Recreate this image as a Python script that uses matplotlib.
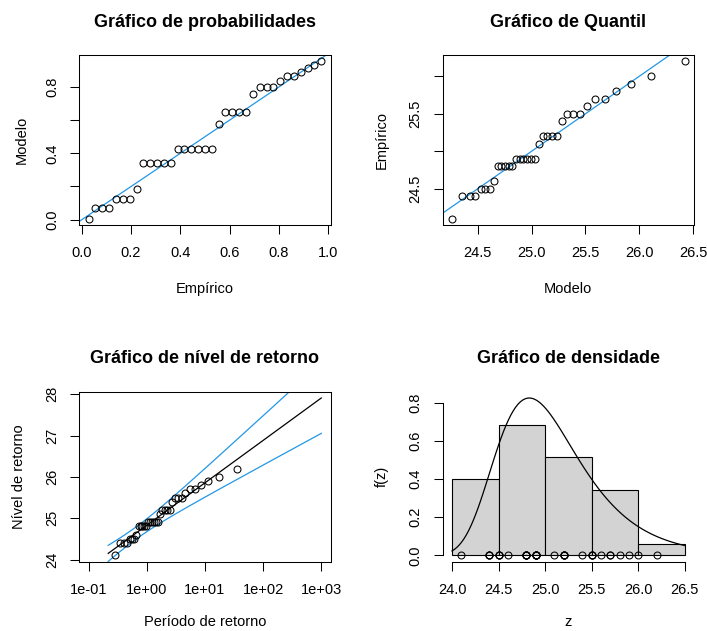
import numpy as np
import matplotlib.pyplot as plt
from matplotlib.ticker import FixedLocator, NullLocator

plt.rcParams["font.family"] = ["Liberation Sans", "DejaVu Sans"]

# ---------------------- Data ----------------------
# observed values (sorted), 35 observations
obs_values = [24.1,
              24.4, 24.4, 24.4,
              24.5, 24.5, 24.5,
              24.6,
              24.8, 24.8, 24.8, 24.8, 24.8,
              24.9, 24.9, 24.9, 24.9, 24.9, 24.9,
              25.1,
              25.2, 25.2, 25.2, 25.2,
              25.4,
              25.5, 25.5, 25.5,
              25.6,
              25.7, 25.7,
              25.8, 25.9, 26.0, 26.2]

# fitted (Gumbel-type) model parameters
loc = 24.83
scale = 0.446
# covariance of (loc, scale) estimates
var_loc = 0.0063
var_scale = 0.00345
cov_loc_scale = 0.00146

# probabilities used for the return level curve
rl_probs = [0.01, 0.02, 0.03, 0.04, 0.05, 0.06, 0.07, 0.08, 0.09,
            0.1, 0.2, 0.3, 0.4, 0.5, 0.6, 0.7, 0.8, 0.9,
            0.95, 0.99, 0.995, 0.999]

hist_breaks = [24.0, 24.5, 25.0, 25.5, 26.0, 26.5]

BLUE = "#2297E6"

dat = np.array(obs_values)
n = len(dat)
plotpos = np.arange(1, n + 1) / (n + 1)


def model_cdf(z):
    return np.exp(-np.exp(-(np.asarray(z) - loc) / scale))


def model_quantile(p):
    return loc - scale * np.log(-np.log(np.asarray(p)))


def model_density(z):
    t = (np.asarray(z) - loc) / scale
    return np.exp(-t) * np.exp(-np.exp(-t)) / scale


def r_limits(lo, hi):
    pad = (hi - lo) * 0.04
    return lo - pad, hi + pad


# ---------------------- Figure layout ----------------------
fig = plt.figure(figsize=(7.07, 6.31), dpi=100)
W, H = 707, 631
PW, PH = 251.3, 170.0


def make_ax(left, top):
    return fig.add_axes([left / W, 1 - (top + PH) / H, PW / W, PH / H])


ax1 = make_ax(79.3, 55)
ax2 = make_ax(442.7, 55)
ax3 = make_ax(79.3, 391.7)
ax4 = make_ax(442.7, 391.7)

TICK_FS = 10.5
TITLE_FS = 13
PX = 72 / 100  # points per pixel
mk = dict(marker="o", linestyle="none", markerfacecolor="none",
          markeredgecolor="black", markersize=5.0, markeredgewidth=0.75)


def style(ax, title, xlab, ylab, xlab_px, ylab_px):
    for sp in ax.spines.values():
        sp.set_linewidth(0.75)
    ax.tick_params(direction="out", length=9 * PX, width=0.75, labelsize=TICK_FS)
    ax.tick_params(axis="x", pad=19 * PX)
    ax.tick_params(axis="y", pad=18 * PX)
    for lab in ax.get_xticklabels():
        lab.set_va("center")
    for lab in ax.get_yticklabels():
        lab.set_rotation(90)
        lab.set_va("center")
        lab.set_ha("center")
    ax.text(0.5, 1 + 28.3 / PH, title, transform=ax.transAxes, ha="center",
            va="baseline", fontsize=TITLE_FS, fontweight="bold")
    ax.text(0.5, -xlab_px / PH, xlab, transform=ax.transAxes, ha="center",
            va="baseline", fontsize=TICK_FS)
    ax.text(-ylab_px / PW, 0.5, ylab, transform=ax.transAxes, ha="center",
            va="baseline", rotation=90, rotation_mode="anchor", fontsize=TICK_FS)


# ---------------------- 1. Probability plot ----------------------
ax1.plot([-1, 2], [-1, 2], color=BLUE, lw=0.9)
ax1.plot(plotpos, model_cdf(dat), **mk)
ax1.set_xlim(*r_limits(plotpos.min(), plotpos.max()))
ax1.set_ylim(*r_limits(model_cdf(dat).min(), model_cdf(dat).max()))
ax1.xaxis.set_major_locator(FixedLocator([0, 0.2, 0.4, 0.6, 0.8, 1.0]))
ax1.set_xticklabels(["0.0", "0.2", "0.4", "0.6", "0.8", "1.0"])
ax1.yaxis.set_major_locator(FixedLocator([0, 0.2, 0.4, 0.6, 0.8]))
ax1.set_yticklabels(["0.0", "", "0.4", "", "0.8"])
style(ax1, "Gráfico de probabilidades", "Empírico", "Modelo", 68.3, 54)

# ---------------------- 2. Quantile plot ----------------------
mq = model_quantile(plotpos)
ax2.plot([20, 30], [20, 30], color=BLUE, lw=0.9)
ax2.plot(mq, dat, **mk)
ax2.set_xlim(*r_limits(mq.min(), mq.max()))
ax2.set_ylim(*r_limits(dat.min(), dat.max()))
ax2.xaxis.set_major_locator(FixedLocator([24.5, 25.0, 25.5, 26.0, 26.5]))
ax2.set_xticklabels(["24.5", "25.0", "25.5", "26.0", "26.5"])
ax2.yaxis.set_major_locator(FixedLocator([24.5, 25.0, 25.5, 26.0]))
ax2.set_yticklabels(["24.5", "", "25.5", ""])
style(ax2, "Gráfico de Quantil", "Modelo", "Empírico", 68.3, 56.7)

# ---------------------- 3. Return level plot ----------------------
f = np.array(rl_probs)
period = -1 / np.log(f)
q = model_quantile(f)
ly = np.log(period)
se = np.sqrt(var_loc + 2 * ly * cov_loc_scale + ly ** 2 * var_scale)
ax3.set_xscale("log")
ax3.plot(period, q, color="black", lw=0.9)
ax3.plot(period, q + 1.96 * se, color=BLUE, lw=0.9)
ax3.plot(period, q - 1.96 * se, color=BLUE, lw=0.9)
ax3.plot(-1 / np.log(plotpos), dat, **mk)
lx0, lx1 = r_limits(np.log10(0.1), np.log10(1000))
ax3.set_xlim(10 ** lx0, 10 ** lx1)
ax3.set_ylim(*r_limits(min(dat.min(), q.min()), max(dat.max(), q.max())))
ax3.xaxis.set_major_locator(FixedLocator([0.1, 1, 10, 100, 1000]))
ax3.xaxis.set_minor_locator(NullLocator())
ax3.set_xticklabels(["1e-01", "1e+00", "1e+01", "1e+02", "1e+03"])
ax3.yaxis.set_major_locator(FixedLocator([24, 25, 26, 27, 28]))
ax3.set_yticklabels(["24", "25", "26", "27", "28"])
style(ax3, "Gráfico de nível de retorno", "Período de retorno", "Nível de retorno", 64.5, 56.7)

# ---------------------- 4. Density plot ----------------------
# R hist: right-closed bins, first bin includes its lower edge
counts = np.array([np.sum((dat > a) & (dat <= b)) + (np.sum(dat == a) if i == 0 else 0)
                   for i, (a, b) in enumerate(zip(hist_breaks[:-1], hist_breaks[1:]))])
widths = np.diff(hist_breaks)
dens = counts / (n * widths)
xs = np.linspace(hist_breaks[0], hist_breaks[-1], 100)
ys = model_density(xs)
ax4.bar(hist_breaks[:-1], dens, width=widths, align="edge", color="#D3D3D3",
        edgecolor="black", linewidth=0.8)
ax4.plot(dat, np.zeros(n), **mk)
ax4.plot(xs, ys, color="black", lw=0.9)
ax4.set_xlim(*r_limits(hist_breaks[0], hist_breaks[-1]))
ax4.set_ylim(*r_limits(0, max(dens.max(), ys.max())))
ax4.xaxis.set_major_locator(FixedLocator(hist_breaks))
ax4.set_xticklabels(["24.0", "24.5", "25.0", "25.5", "26.0", "26.5"])
ax4.yaxis.set_major_locator(FixedLocator([0, 0.2, 0.4, 0.6, 0.8]))
ax4.set_yticklabels(["0.0", "0.2", "0.4", "0.6", "0.8"])
ax4.spines["top"].set_visible(False)
ax4.spines["right"].set_visible(False)
ax4.spines["bottom"].set_bounds(hist_breaks[0], hist_breaks[-1])
ax4.spines["left"].set_bounds(0, 0.8)
style(ax4, "Gráfico de densidade", "z", "f(z)", 64.5, 56.7)

fig.savefig("out.png", dpi=100)
